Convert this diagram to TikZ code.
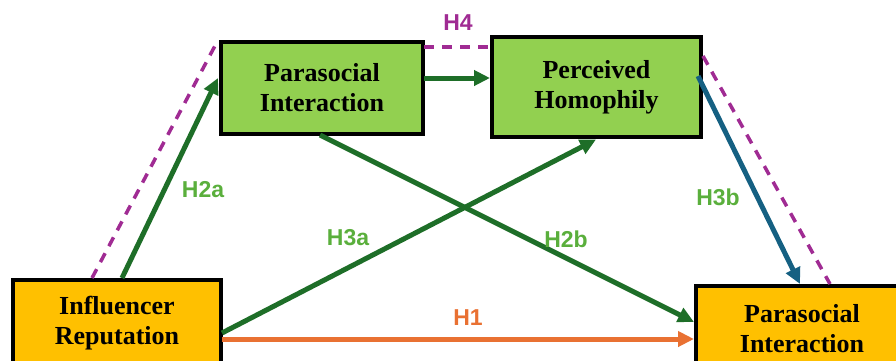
\documentclass[tikz,border=0pt]{standalone}
\usepackage{fontspec}
\setmainfont{Liberation Serif}
\newfontfamily\labfont{Liberation Sans}
\usetikzlibrary{arrows.meta}
\definecolor{boxgreen}{HTML}{92D050}
\definecolor{boxorange}{HTML}{FFC000}
\definecolor{darkgr}{RGB}{30,110,40}
\definecolor{labgreen}{RGB}{90,175,60}
\definecolor{myblue}{HTML}{156082}
\definecolor{myorange}{HTML}{E97132}
\definecolor{mypurple}{HTML}{A02B93}
\tikzset{
  box/.style={draw=black, line width=4pt, inner sep=0pt, align=center,
    font=\fontsize{26}{30}\selectfont\bfseries},
  conn/.style={line width=5pt, -{Triangle[length=16pt,width=15pt]}},
  dashy/.style={line width=3.5pt, draw=mypurple, dash pattern=on 10pt off 8pt},
  lab/.style={font=\labfont\fontsize{23}{26}\selectfont\bfseries, inner sep=0pt}
}
\begin{document}
\begin{tikzpicture}[x=1pt,y=-1pt]
\useasboundingbox (0,0) rectangle (896,360);
\clip (0,0) rectangle (896,360);
% boxes
\node[box, fill=boxgreen, minimum width=202pt, minimum height=92pt] (pi) at (322,88) {Parasocial\\Interaction};
\node[box, fill=boxgreen, minimum width=209pt, minimum height=100pt] (ph) at (596.5,87) {Perceived\\Homophily};
\node[box, fill=boxorange, minimum width=208pt, minimum height=86pt] (ir) at (117,323) {Influencer\\Reputation};
\node[box, fill=boxorange, minimum width=212pt, minimum height=86pt] (pt) at (802,329) {Parasocial\\Interaction};
% anchor points
\coordinate (d1a) at (92,278);  \coordinate (d1b) at (217,42);
\coordinate (d2a) at (424,47);  \coordinate (d2b) at (490,47);
\coordinate (d3a) at (703,56);  \coordinate (d3b) at (830,284);
\coordinate (a2s) at (122,278); \coordinate (a2e) at (218,78);
\coordinate (pps) at (424,78);  \coordinate (ppe) at (490,78);
\coordinate (b2s) at (320,135); \coordinate (b2e) at (694,322);
\coordinate (a3s) at (222,333); \coordinate (a3e) at (596,139.5);
\coordinate (h1s) at (222,339); \coordinate (h1e) at (694,339);
\coordinate (b3s) at (698,76);  \coordinate (b3e) at (800,284);
% purple dashed H4
\draw[dashy] (d1a) -- (d1b);
\draw[dashy] (d2a) -- (d2b);
\draw[dashy] (d3a) -- (d3b);
% arrows
\draw[conn, darkgr] (a2s) -- (a2e);
\draw[conn, darkgr] (pps) -- (ppe);
\draw[conn, darkgr] (b2s) -- (b2e);
\draw[conn, darkgr] (a3s) -- (a3e);
\draw[conn, myorange] (h1s) -- (h1e);
\draw[conn, myblue] (b3s) -- (b3e);
% labels
\node[lab, text=mypurple] (lh4) at (458,23) {H4};
\node[lab, text=labgreen] (lh2a) at (203,190) {H2a};
\node[lab, text=labgreen] (lh3a) at (348,238) {H3a};
\node[lab, text=labgreen] (lh2b) at (566,239) {H2b};
\node[lab, text=labgreen] (lh3b) at (718,197) {H3b};
\node[lab, text=myorange] (lh1) at (468,318) {H1};
\end{tikzpicture}
\end{document}
